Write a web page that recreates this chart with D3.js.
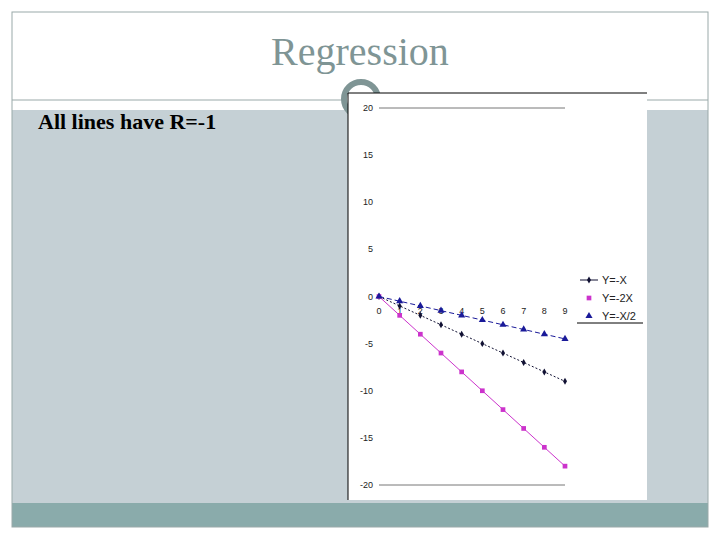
<!DOCTYPE html>
<html><head><meta charset="utf-8">
<script src="https://cdn.jsdelivr.net/npm/d3@7"></script>
<style>body{margin:0;background:#fff}svg{display:block}</style>
</head><body><div id="slide"></div>
<script>
// chart data
let xs = [0, 1, 2, 3, 4, 5, 6, 7, 8, 9]
let yNegX = [0, -1, -2, -3, -4, -5, -6, -7, -8, -9]
let yNeg2X = [0, -2, -4, -6, -8, -10, -12, -14, -16, -18]
let yNegHalfX = [0, -0.5, -1, -1.5, -2, -2.5, -3, -3.5, -4, -4.5]
let yTicks = [20, 15, 10, 5, 0, -5, -10, -15, -20]
let seriesNames = ['Y=-X', 'Y=-2X', 'Y=-X/2']

let svg = d3.select('#slide').append('svg:svg').attr('width', 720).attr('height', 540)

// slide background
svg.append('rect').attr('x', 12).attr('y', 110).attr('width', 696).attr('height', 393).attr('fill', '#c5d0d5')
svg.append('rect').attr('x', 12).attr('y', 503).attr('width', 696).attr('height', 24).attr('fill', '#8aabab')
svg.append('rect').attr('x', 12).attr('y', 12).attr('width', 696).attr('height', 515)
	.attr('fill', 'none').attr('stroke', '#9aa9a9')
svg.append('line').attr('x1', 12).attr('x2', 708).attr('y1', 100).attr('y2', 100).attr('stroke', '#9aa9a9')
svg.append('text').attr('x', 360).attr('y', 65).attr('text-anchor', 'middle')
	.attr('font-family', 'Liberation Serif').attr('font-size', 40).attr('fill', '#7f9595').text('Regression')
svg.append('text').attr('x', 38).attr('y', 129)
	.attr('font-family', 'Liberation Serif').attr('font-size', 22).attr('font-weight', 'bold').text('All lines have R=-1')
svg.append('circle').attr('cx', 361).attr('cy', 99).attr('r', 17).attr('fill', '#fff')
	.attr('stroke', '#7f9595').attr('stroke-width', 6)

// chart box
svg.append('rect').attr('x', 348).attr('y', 93).attr('width', 299).attr('height', 407).attr('fill', '#fff')
svg.append('line').attr('x1', 348).attr('x2', 647).attr('y1', 93).attr('y2', 93).attr('stroke', '#000')
svg.append('line').attr('x1', 348).attr('x2', 348).attr('y1', 93).attr('y2', 500).attr('stroke', '#000')

let x = d3.scaleLinear().domain([0, 9]).range([379, 565])
let y = d3.scaleLinear().domain([-20, 20]).range([485, 108])

// top and bottom lines
for (let v of [20, -20]) {
	svg.append('line').attr('x1', 379).attr('x2', 565).attr('y1', y(v)).attr('y2', y(v)).attr('stroke', '#777')
}

svg.selectAll('.ytick').data(yTicks).enter().append('text')
	.attr('x', 373).attr('y', d => y(d) + 3).attr('text-anchor', 'end')
	.attr('font-family', 'Liberation Sans').attr('font-size', 9).attr('fill', '#222')
	.text(d => d)
svg.selectAll('.xtick').data(xs).enter().append('text')
	.attr('x', d => x(d)).attr('y', y(0) + 17).attr('text-anchor', 'middle')
	.attr('font-family', 'Liberation Sans').attr('font-size', 9).attr('fill', '#222')
	.text(d => d)

let series = [
	{ vals: yNegX, color: '#111133', dash: '2,2', shape: d3.symbolDiamond, size: 14 },
	{ vals: yNeg2X, color: '#cc33cc', dash: null, shape: d3.symbolSquare, size: 22 },
	{ vals: yNegHalfX, color: '#1a1a99', dash: '5,3', shape: d3.symbolTriangle, size: 22 },
]
let line = d3.line().x((d, i) => x(xs[i])).y(d => y(d))

series.forEach((s, k) => {
	svg.append('path').attr('d', line(s.vals)).attr('fill', 'none')
		.attr('stroke', s.color).attr('stroke-width', 1).attr('stroke-dasharray', s.dash)
	svg.selectAll('.pt' + k).data(s.vals).enter().append('path')
		.attr('d', d3.symbol().type(s.shape).size(s.size))
		.attr('transform', (d, i) => `translate(${x(xs[i])},${y(d)})`)
		.attr('fill', s.color)
	// legend
	let ly = 280 + k * 18
	if (k == 0) {
		svg.append('line').attr('x1', 580).attr('x2', 598).attr('y1', ly).attr('y2', ly).attr('stroke', s.color)
	}
	svg.append('path').attr('d', d3.symbol().type(s.shape).size(s.size))
		.attr('transform', `translate(589,${ly})`).attr('fill', s.color)
	svg.append('text').attr('x', 602).attr('y', ly + 4)
		.attr('font-family', 'Liberation Sans').attr('font-size', 11).attr('fill', '#222').text(seriesNames[k])
})
svg.append('line').attr('x1', 577).attr('x2', 643).attr('y1', 323).attr('y2', 323).attr('stroke', '#000')
</script></body></html>
